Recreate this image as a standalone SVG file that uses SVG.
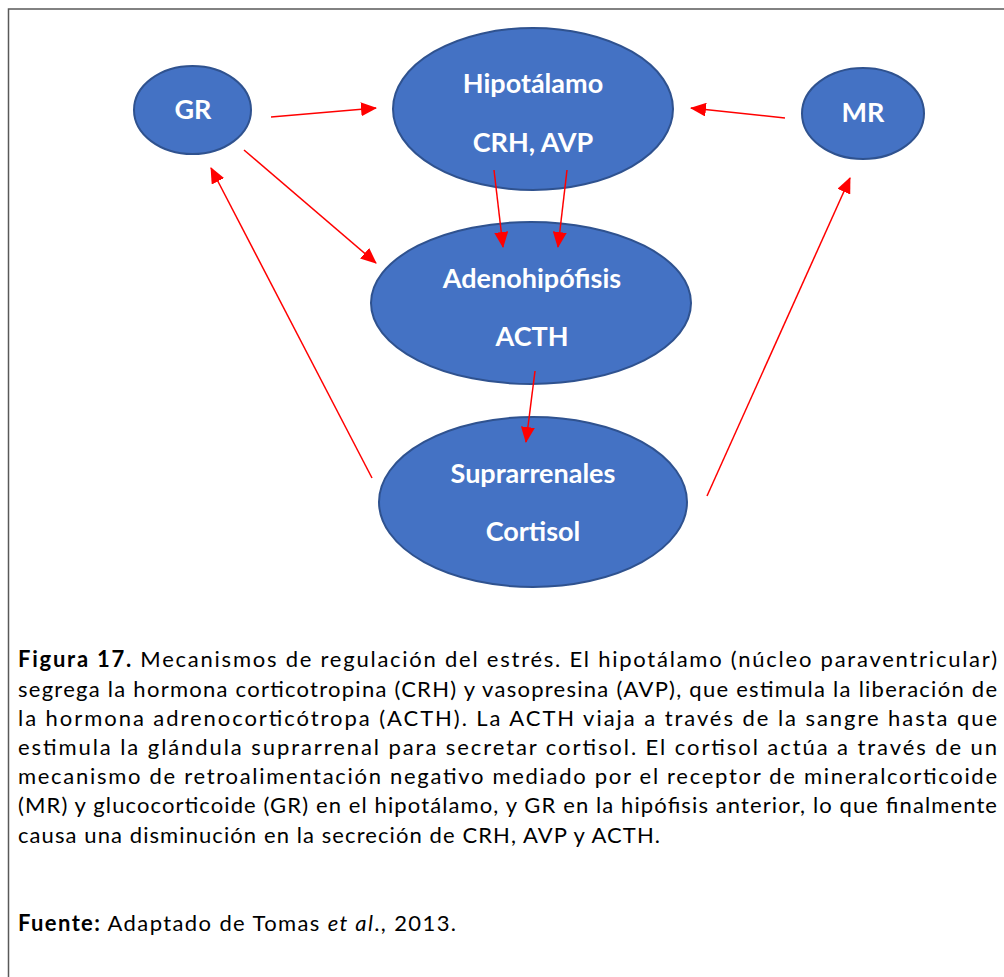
<svg xmlns="http://www.w3.org/2000/svg" width="1004" height="977" viewBox="0 0 1004 977">
<defs>
<marker id="ah" markerUnits="userSpaceOnUse" markerWidth="16" markerHeight="14" refX="15" refY="7" orient="auto">
<path d="M0,0 L16,7 L0,14 Z" fill="#FF0000"/>
</marker>
<style>
.node{fill:#4472C4;stroke:#2F528F;stroke-width:2}
.lbl{font-family:Lato,"Open Sans","Liberation Sans",sans-serif;font-weight:bold;font-size:27px;fill:#FFFFFF;text-anchor:middle}
.con line{stroke:#FF0000;stroke-width:1.5;marker-end:url(#ah)}
.cap{font-family:Lato,"Open Sans","Liberation Sans",sans-serif;font-size:22px;fill:#000000}
.b{font-weight:bold}
</style>
</defs>
<rect width="1004" height="977" fill="#FFFFFF"/>
<path d="M1004,9 L8.5,9 L8.5,977" fill="none" stroke="#595959" stroke-width="1.5"/>
<g id="node-gr"><ellipse class="node" cx="192.5" cy="110" rx="58.5" ry="44"/><text class="lbl" x="193" y="119">GR</text></g>
<g id="node-hipotalamo"><ellipse class="node" cx="533" cy="109" rx="140" ry="81"/><text class="lbl" x="533" y="93">Hipotálamo</text><text class="lbl" x="533" y="152">CRH, AVP</text></g>
<g id="node-mr"><ellipse class="node" cx="863" cy="113.5" rx="61" ry="45.5"/><text class="lbl" x="863" y="122">MR</text></g>
<g id="node-adenohipofisis"><ellipse class="node" cx="531" cy="303" rx="160" ry="81"/><text class="lbl" x="532" y="288">Adenohipófisis</text><text class="lbl" x="532" y="346">ACTH</text></g>
<g id="node-suprarrenales"><ellipse class="node" cx="533" cy="502" rx="154" ry="85"/><text class="lbl" x="533" y="483">Suprarrenales</text><text class="lbl" x="533" y="541">Cortisol</text></g>
<g id="connectors" class="con">
<line x1="271" y1="117" x2="376" y2="108"/>
<line x1="244" y1="150" x2="376" y2="263"/>
<line x1="372" y1="478" x2="211" y2="168"/>
<line x1="785" y1="118" x2="691" y2="108"/>
<line x1="707" y1="496" x2="850" y2="178"/>
<line x1="494" y1="170" x2="503" y2="247"/>
<line x1="567" y1="170" x2="558" y2="247"/>
<line x1="535" y1="371" x2="526" y2="442"/>
</g>
<g id="caption" class="cap">
<text x="18" y="667" textLength="979" lengthAdjust="spacing"><tspan class="b">Figura 17.</tspan> Mecanismos de regulación del estrés. El hipotálamo (núcleo paraventricular)</text>
<text x="18" y="697" textLength="979" lengthAdjust="spacing">segrega la hormona corticotropina (CRH) y vasopresina (AVP), que estimula la liberación de</text>
<text x="18" y="726" textLength="979" lengthAdjust="spacing">la hormona adrenocorticótropa (ACTH). La ACTH viaja a través de la sangre hasta que</text>
<text x="18" y="755" textLength="979" lengthAdjust="spacing">estimula la glándula suprarrenal para secretar cortisol. El cortisol actúa a través de un</text>
<text x="18" y="784" textLength="979" lengthAdjust="spacing">mecanismo de retroalimentación negativo mediado por el receptor de mineralcorticoide</text>
<text x="18" y="813" textLength="979" lengthAdjust="spacing">(MR) y glucocorticoide (GR) en el hipotálamo, y GR en la hipófisis anterior, lo que finalmente</text>
<text x="18" y="843" textLength="642" lengthAdjust="spacing">causa una disminución en la secreción de CRH, AVP y ACTH.</text>
<text x="18" y="931" textLength="438" lengthAdjust="spacing"><tspan class="b">Fuente:</tspan> Adaptado de Tomas <tspan font-style="italic">et al</tspan>., 2013.</text>
</g>
</svg>
